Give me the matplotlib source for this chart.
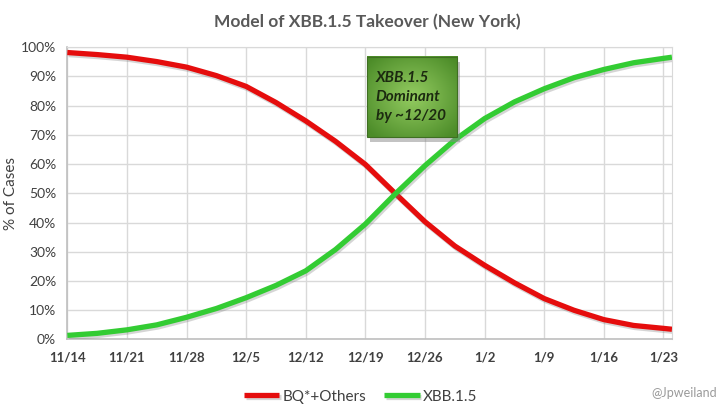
import numpy as np
import matplotlib.pyplot as plt
import matplotlib.patheffects as pe
from matplotlib.patches import Rectangle
from datetime import datetime, timedelta

# days after 11/14/2022, every half week
days = [0, 3.5, 7, 10.5, 14, 17.5, 21, 24.5, 28, 31.5, 35, 38.5, 42,
        45.5, 49, 52.5, 56, 59.5, 63, 66.5, 70, 71]
bq_others = [98.2, 97.5, 96.6, 95.1, 93.2, 90.3, 86.6, 81.1, 74.8, 67.8, 59.9,
             50.0, 40.3, 32.0, 25.4, 19.4, 14.0, 10.0, 6.8, 4.8, 3.8, 3.5]
xbb15 = [1.4, 2.1, 3.3, 5.0, 7.6, 10.6, 14.3, 18.5, 23.5, 30.8, 39.5,
         49.8, 59.5, 68.3, 75.6, 81.3, 85.8, 89.6, 92.4, 94.7, 96.2, 96.6]
tick_labels = ['11/14', '11/21', '11/28', '12/5', '12/12', '12/19', '12/26',
               '1/2', '1/9', '1/16', '1/23']

start = datetime(2022, 11, 14)
dates = [start + timedelta(days=d) for d in days]
tick_dates = [start + timedelta(days=7 * i) for i in range(len(tick_labels))]

plt.rcParams['font.family'] = ['Lato', 'DejaVu Sans']
grey_txt = '#404040'
grid_c = '#d9d9d9'

fig = plt.figure(figsize=(7.28, 4.04), dpi=100)
ax = fig.add_axes([0.0925, 0.1597, 0.8305, 0.7233])

shadow = [pe.SimpleLineShadow(offset=(1, -1.5), shadow_color='#777777', alpha=0.3),
          pe.Normal()]
ax.plot(dates, bq_others, color='#e50d0d', lw=3.8, solid_capstyle='butt',
        solid_joinstyle='round', label='BQ*+Others', path_effects=shadow, zorder=3)
ax.plot(dates, xbb15, color='#33cc33', lw=3.8, solid_capstyle='butt',
        solid_joinstyle='round', label='XBB.1.5', path_effects=shadow, zorder=3)

ax.set_xlim(start, start + timedelta(days=71))
ax.set_ylim(0, 100)
ax.set_xticks(tick_dates)
ax.set_xticklabels(tick_labels)
ax.set_yticks(np.arange(0, 101, 10))
ax.set_yticklabels([f'{v}%' for v in range(0, 101, 10)])
ax.tick_params(axis='x', length=0, pad=9, labelsize=9.5, labelcolor=grey_txt)
ax.tick_params(axis='y', length=0, pad=8, labelsize=10, labelcolor=grey_txt)
for lab in ax.get_xticklabels():
    lab.set_fontweight('bold')
ax.grid(True, color=grid_c, lw=1)
ax.set_axisbelow(True)
for side in ['top', 'right']:
    ax.spines[side].set_color(grid_c)
for side in ['left', 'bottom']:
    ax.spines[side].set_color('#bfbfbf')
    ax.spines[side].set_linewidth(1.2)

ax.set_ylabel('% of Cases', fontsize=11, color=grey_txt)
ax.yaxis.set_label_coords(-0.081, 0.5)
fig.text(0.504, 0.945, 'Model of XBB.1.5 Takeover (New York)', ha='center',
         va='center', fontsize=12.5, fontweight='bold', color='#595959')

# green call-out box with a soft gradient
bx0, bx1, by0, by1 = 0.495, 0.644, 0.693, 0.967
ax.add_patch(Rectangle((bx0 + 0.006, by0 - 0.018), bx1 - bx0, by1 - by0,
                       transform=ax.transAxes, color='#888888', alpha=0.5,
                       zorder=4, lw=0))
gy, gx = np.mgrid[-1:1:60j, -1:1:60j]
rr = np.clip(np.sqrt(gx ** 2 + gy ** 2) / 1.3, 0, 1)
c_in = np.array([0.58, 0.80, 0.38])
c_out = np.array([0.30, 0.55, 0.16])
grad = c_in[None, None, :] * (1 - rr[..., None]) + c_out[None, None, :] * rr[..., None]
ax.imshow(grad, extent=[bx0, bx1, by0, by1], transform=ax.transAxes,
          aspect='auto', zorder=5, interpolation='bilinear')
ax.add_patch(Rectangle((bx0, by0), bx1 - bx0, by1 - by0, transform=ax.transAxes,
                       fill=False, ec='#3f6f22', lw=0.8, zorder=6))
ax.text(bx0 + 0.015, (by0 + by1) / 2, 'XBB.1.5\nDominant\nby ~12/20',
        transform=ax.transAxes, ha='left', va='center', fontsize=11,
        fontstyle='italic', fontweight='bold', color='#1c2a10',
        linespacing=1.45, zorder=7)

leg = ax.legend(loc='upper center', bbox_to_anchor=(0.485, -0.125), ncol=2,
                frameon=False, fontsize=11, handlelength=2.3, handletextpad=0.2,
                columnspacing=1.2)
for t in leg.get_texts():
    t.set_color(grey_txt)

fig.text(0.985, 0.027, '@Jpweiland', ha='right', va='center', fontsize=9,
         color='#9a9a9a')

fig.savefig('out.png', dpi=100)
